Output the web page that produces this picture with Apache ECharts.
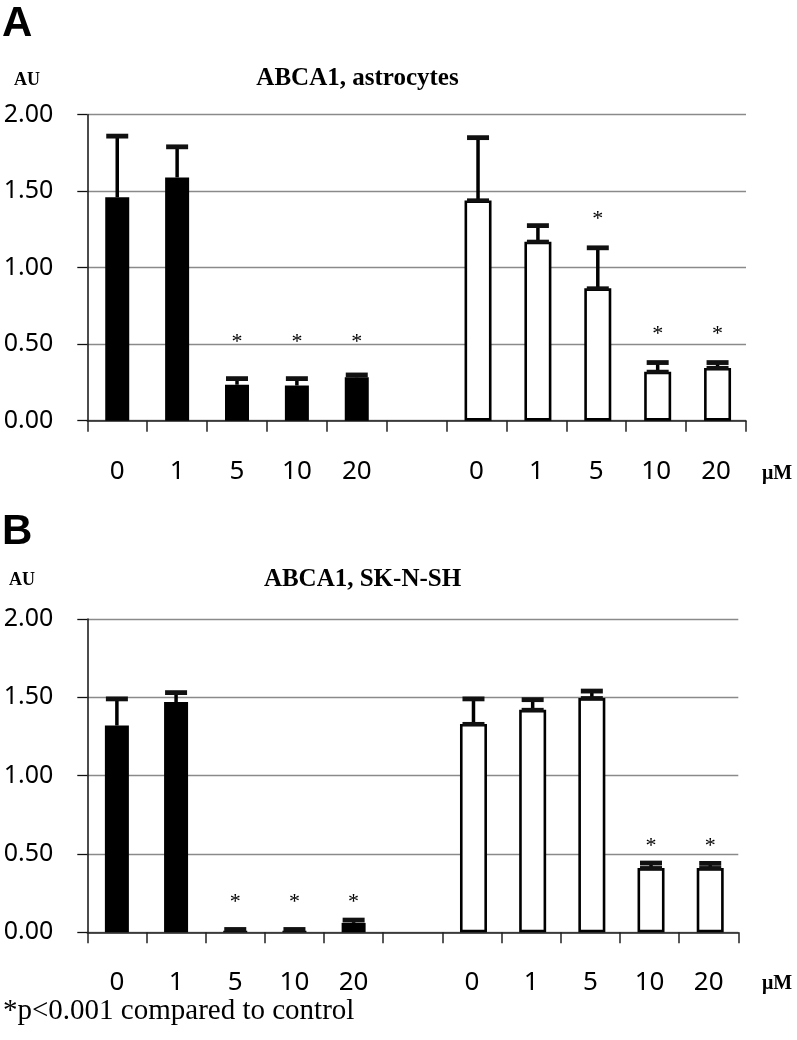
<!DOCTYPE html>
<html>
<head>
<meta charset="utf-8">
<script src="https://cdn.jsdelivr.net/npm/echarts@6/dist/echarts.min.js"></script>
<style>
html,body{margin:0;padding:0;background:#fff;}
#chart{width:797px;height:1040px;}
</style>
</head>
<body>
<div id="chart"></div>
<script>
// ---- data ----
const categories = ['0', '1', '5', '10', '20', '', '0', '1', '5', '10', '20'];
const yTicks = [0, 0.5, 1.0, 1.5, 2.0];

// Panel A: ABCA1, astrocytes
const aBlack    = [1.46, 1.59, 0.235, 0.23, 0.284];
const aBlackErr = [0.40, 0.20, 0.040, 0.045, 0.015];
const aBlackStar = [null, null, 0.53, 0.53, 0.53];
const aWhite    = [1.44, 1.17, 0.865, 0.32, 0.345];
const aWhiteErr = [0.41, 0.105, 0.265, 0.06, 0.035];
const aWhiteStar = [null, null, 1.335, 0.585, 0.585];

// Panel B: ABCA1, SK-N-SH
const bBlack    = [1.32, 1.47, 0.01, 0.01, 0.06];
const bBlackErr = [0.17, 0.06, 0.008, 0.008, 0.018];
const bBlackStar = [null, null, 0.21, 0.21, 0.21];
const bWhite    = [1.33, 1.42, 1.495, 0.41, 0.41];
const bWhiteErr = [0.16, 0.065, 0.045, 0.032, 0.03];
const bWhiteStar = [null, null, null, 0.57, 0.57];

// ---- helpers ----
const GAP = 6; // index where the white group starts
function barData(vals, offset) {
  const out = categories.map(() => '-');
  vals.forEach((v, i) => { out[i + offset] = v; });
  return out;
}
function errData(black, blackErr, white, whiteErr) {
  const out = [];
  black.forEach((v, i) => out.push([i, v, blackErr[i]]));
  white.forEach((v, i) => out.push([i + GAP, v, whiteErr[i]]));
  return out;
}
function makeRender(blackStar, whiteStar) {
  const stars = blackStar.concat(whiteStar);
  return function (params, api) {
    const x = api.value(0), v = api.value(1), e = api.value(2);
    const white = x >= GAP;
    const dx = white ? 1.5 : 0; // white bars sit 1.5px right of centre (bar layout)
    const base = api.coord([x, v]);
    const top = api.coord([x, v + e]);
    const hw = 11;
    const cx = base[0] + dx;
    const children = [
      {type: 'line', shape: {x1: cx, y1: base[1], x2: cx, y2: top[1]}, style: {stroke: '#000', lineWidth: 3.5}},
      {type: 'line', shape: {x1: cx - hw, y1: top[1], x2: cx + hw, y2: top[1]}, style: {stroke: '#111', lineWidth: 4.8}}
    ];
    if (white) {
      children.push({type: 'line', shape: {x1: cx - hw, y1: base[1], x2: cx + hw, y2: base[1]}, style: {stroke: '#111', lineWidth: 4}});
    }
    const s = stars[params.dataIndex];
    if (s != null) {
      const p = api.coord([x, s]);
      children.push({type: 'text', x: cx, y: p[1] + 3,
        style: {text: '*', font: '22px "Liberation Serif"', align: 'center', verticalAlign: 'middle', fill: '#000'}});
    }
    return {type: 'group', children: children};
  };
}

const chart = echarts.init(document.getElementById('chart'), null, {renderer: 'canvas'});

function xAxisCfg(gridIndex, margin) {
  return {
    type: 'category', gridIndex: gridIndex, data: categories,
    axisLine: {lineStyle: {color: '#222', width: 1.5}},
    axisTick: {show: true, interval: 0, length: 11, lineStyle: {color: '#222', width: 1.5}},
    axisLabel: {interval: 0, margin: margin, color: '#000', fontSize: 26, fontFamily: 'Noto Sans'},
    splitLine: {show: false}
  };
}
function yAxisCfg(gridIndex) {
  return {
    type: 'value', gridIndex: gridIndex, min: yTicks[0], max: yTicks[yTicks.length - 1], interval: 0.5,
    axisLine: {show: true, lineStyle: {color: '#111', width: 1.5}},
    axisTick: {show: true, length: 10, lineStyle: {color: '#111', width: 1.3}},
    axisLabel: {margin: 34, color: '#000', fontSize: 25, fontFamily: 'Noto Sans',
      formatter: v => v.toFixed(2)},
    splitLine: {show: true, lineStyle: {color: '#8a8a8a', width: 1.3}}
  };
}
function barSeries(idx, vals, offset, isWhite) {
  return {
    type: 'bar', xAxisIndex: idx, yAxisIndex: idx,
    data: barData(vals, offset),
    barWidth: isWhite ? 27 : 24,
    barGap: '-100%',
    itemStyle: isWhite ? {color: '#fff', borderColor: '#000', borderWidth: 2.6} : {color: '#000'},
    z: 2, animation: false
  };
}
function errSeries(idx, black, bErr, bStar, white, wErr, wStar) {
  return {
    type: 'custom', xAxisIndex: idx, yAxisIndex: idx,
    data: errData(black, bErr, white, wErr),
    encode: {x: 0, y: 1},
    renderItem: makeRender(bStar, wStar),
    z: 3, animation: false, clip: false
  };
}

const serif = '"Liberation Serif", "DejaVu Serif", serif';
const option = {
  backgroundColor: '#fff',
  animation: false,
  grid: [
    {left: 87.3, top: 114.7, width: 658.7, height: 306},
    {left: 87.3, top: 619, width: 651, height: 313.3}
  ],
  xAxis: [xAxisCfg(0, 38), xAxisCfg(1, 37)],
  yAxis: [yAxisCfg(0), yAxisCfg(1)],
  series: [
    barSeries(0, aWhite, GAP, true),
    barSeries(0, aBlack, 0, false),
    errSeries(0, aBlack, aBlackErr, aBlackStar, aWhite, aWhiteErr, aWhiteStar),
    barSeries(1, bWhite, GAP, true),
    barSeries(1, bBlack, 0, false),
    errSeries(1, bBlack, bBlackErr, bBlackStar, bWhite, bWhiteErr, bWhiteStar)
  ],
  graphic: [
    {type: 'text', left: 2, top: 3, style: {text: 'A', font: 'bold 42px "Liberation Sans"', fill: '#000'}},
    {type: 'text', x: 14, y: 80, style: {text: 'AU', font: 'bold 18px ' + serif, fill: '#000', verticalAlign: 'middle'}},
    {type: 'text', x: 357.5, y: 79, style: {text: 'ABCA1, astrocytes', font: 'bold 25px ' + serif, fill: '#000', align: 'center', verticalAlign: 'middle'}},
    {type: 'text', x: 762, y: 474, style: {text: 'μM', font: 'bold 20px ' + serif, fill: '#000', verticalAlign: 'middle'}},
    {type: 'text', left: 2, top: 511, style: {text: 'B', font: 'bold 42px "Liberation Sans"', fill: '#000'}},
    {type: 'text', x: 9, y: 580, style: {text: 'AU', font: 'bold 18px ' + serif, fill: '#000', verticalAlign: 'middle'}},
    {type: 'text', x: 362.5, y: 580, style: {text: 'ABCA1, SK-N-SH', font: 'bold 25px ' + serif, fill: '#000', align: 'center', verticalAlign: 'middle'}},
    {type: 'text', x: 762, y: 984, style: {text: 'μM', font: 'bold 20px ' + serif, fill: '#000', verticalAlign: 'middle'}},
    {type: 'text', x: 3, y: 1011, style: {text: '*p<0.001 compared to control', font: '29px ' + serif, fill: '#000', verticalAlign: 'middle'}}
  ]
};
chart.setOption(option);
</script>
</body>
</html>
